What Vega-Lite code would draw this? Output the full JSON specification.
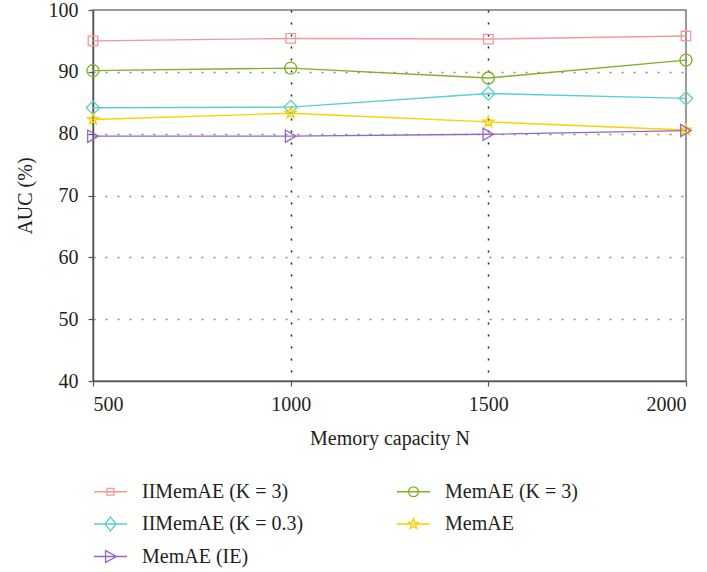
{
  "$schema": "https://vega.github.io/schema/vega-lite/v6.json",
  "width": 593,
  "height": 371,
  "autosize": {"type": "none"},
  "padding": {"left": 93, "top": 10, "right": 21, "bottom": 191},
  "background": "white",
  "data": {
    "values": [
      {"N": 500, "series": "IIMemAE (K = 3)", "auc": 95.0},
      {"N": 1000, "series": "IIMemAE (K = 3)", "auc": 95.4},
      {"N": 1500, "series": "IIMemAE (K = 3)", "auc": 95.3},
      {"N": 2000, "series": "IIMemAE (K = 3)", "auc": 95.8},
      {"N": 500, "series": "MemAE (K = 3)", "auc": 90.2},
      {"N": 1000, "series": "MemAE (K = 3)", "auc": 90.6},
      {"N": 1500, "series": "MemAE (K = 3)", "auc": 89.0},
      {"N": 2000, "series": "MemAE (K = 3)", "auc": 91.9},
      {"N": 500, "series": "IIMemAE (K = 0.3)", "auc": 84.2},
      {"N": 1000, "series": "IIMemAE (K = 0.3)", "auc": 84.3},
      {"N": 1500, "series": "IIMemAE (K = 0.3)", "auc": 86.5},
      {"N": 2000, "series": "IIMemAE (K = 0.3)", "auc": 85.7},
      {"N": 500, "series": "MemAE", "auc": 82.3},
      {"N": 1000, "series": "MemAE", "auc": 83.3},
      {"N": 1500, "series": "MemAE", "auc": 81.9},
      {"N": 2000, "series": "MemAE", "auc": 80.6},
      {"N": 500, "series": "MemAE (IE)", "auc": 79.6},
      {"N": 1000, "series": "MemAE (IE)", "auc": 79.6},
      {"N": 1500, "series": "MemAE (IE)", "auc": 79.9},
      {"N": 2000, "series": "MemAE (IE)", "auc": 80.5}
    ]
  },
  "encoding": {
    "x": {
      "field": "N",
      "type": "quantitative",
      "scale": {"domain": [500, 2000], "nice": false, "zero": false},
      "axis": {
        "title": "Memory capacity N",
        "values": [500, 1000, 1500, 2000],
        "format": "d",
        "gridOpacity": {"condition": {"test": "datum.value == 500 || datum.value == 2000", "value": 0}, "value": 1}
      }
    },
    "y": {
      "field": "auc",
      "type": "quantitative",
      "scale": {"domain": [40, 100], "nice": false, "zero": false},
      "axis": {
        "title": "AUC (%)",
        "values": [40, 50, 60, 70, 80, 90, 100],
        "gridOpacity": {"condition": {"test": "datum.value == 40 || datum.value == 100", "value": 0}, "value": 1}
      }
    },
    "color": {
      "field": "series",
      "type": "nominal",
      "scale": {
        "domain": ["IIMemAE (K = 3)", "MemAE (K = 3)", "IIMemAE (K = 0.3)", "MemAE", "MemAE (IE)"],
        "range": ["#f7979b", "#7fb126", "#5bcfcf", "#fdd000", "#9466c9"]
      },
      "legend": {"title": null, "orient": "none", "direction": "horizontal", "legendX": 0, "legendY": 464}
    }
  },
  "layer": [
    {
      "mark": {"type": "point", "filled": false, "opacity": 0, "size": 10},
      "encoding": {
        "shape": {
          "field": "series",
          "type": "nominal",
          "scale": {
            "domain": ["IIMemAE (K = 3)", "MemAE (K = 3)", "IIMemAE (K = 0.3)", "MemAE", "MemAE (IE)"],
            "range": [
              "M-1,0H1M-0.21,-0.21H0.21V0.21H-0.21Z",
              "M-1,0H1M-0.3,0A0.3,0.3,0,1,0,0.3,0A0.3,0.3,0,1,0,-0.3,0Z",
              "M-1,0H1M-0.33,0L0,-0.42L0.33,0L0,0.42Z",
              "M-1,0H1M0,-0.33L0.0823,-0.1133L0.3139,-0.102L0.1331,0.0433L0.194,0.267L0,0.14L-0.194,0.267L-0.1331,0.0433L-0.3139,-0.102L-0.0823,-0.1133Z",
              "M-1,0H1M-0.3,-0.36L0.36,0L-0.3,0.36Z"
            ]
          },
          "legend": {"title": null, "orient": "none", "direction": "horizontal", "legendX": 0, "legendY": 464}
        }
      }
    },
    {
      "mark": {"type": "line", "strokeWidth": 1.4}
    },
    {
      "transform": [{"filter": {"field": "series", "equal": "IIMemAE (K = 3)"}}],
      "mark": {"type": "point", "shape": "square", "size": 90, "filled": false, "strokeWidth": 1.3, "opacity": 1}
    },
    {
      "transform": [{"filter": {"field": "series", "equal": "MemAE (K = 3)"}}],
      "mark": {"type": "point", "shape": "circle", "size": 144, "filled": false, "strokeWidth": 1.3, "opacity": 1}
    },
    {
      "transform": [{"filter": {"field": "series", "equal": "IIMemAE (K = 0.3)"}}],
      "mark": {"type": "point", "shape": "diamond", "size": 180, "filled": false, "strokeWidth": 1.3, "opacity": 1}
    },
    {
      "transform": [{"filter": {"field": "series", "equal": "MemAE"}}],
      "mark": {
        "type": "point",
        "shape": "M0,-1L0.2351,-0.3236L0.9511,-0.309L0.3804,0.1236L0.5878,0.809L0,0.4L-0.5878,0.809L-0.3804,0.1236L-0.9511,-0.309L-0.2351,-0.3236Z",
        "size": 130,
        "filled": false,
        "strokeWidth": 1.4,
        "opacity": 1
      }
    },
    {
      "transform": [{"filter": {"field": "series", "equal": "MemAE (IE)"}}],
      "mark": {"type": "point", "shape": "triangle-right", "size": 150, "filled": false, "strokeWidth": 1.3, "opacity": 1}
    }
  ],
  "config": {
    "font": "Liberation Serif",
    "view": {"stroke": "#7a7a7a", "strokeWidth": 1.5},
    "axis": {
      "labelFont": "Liberation Serif",
      "labelFontSize": 20,
      "labelColor": "#231f20",
      "titleFont": "Liberation Serif",
      "titleFontSize": 20,
      "titleFontWeight": "normal",
      "titleColor": "#231f20",
      "domainColor": "#555555",
      "domainWidth": 1.5,
      "tickColor": "#555555",
      "tickWidth": 1.2,
      "tickSize": 5,
      "gridDash": [2, 10],
      "gridWidth": 1.5
    },
    "axisX": {"gridColor": "#222222", "labelPadding": 8, "titlePadding": 14, "labelAngle": 0},
    "axisY": {"gridColor": "#8a8a8a", "labelPadding": 10, "titlePadding": 13},
    "legend": {
      "columns": 2,
      "columnPadding": 90,
      "rowPadding": 4.5,
      "symbolSize": 1089,
      "symbolStrokeWidth": 1.3,
      "labelFont": "Liberation Serif",
      "labelFontSize": 20,
      "labelColor": "#231f20",
      "labelOffset": 14,
      "labelLimit": 300,
      "padding": 0
    }
  }
}
